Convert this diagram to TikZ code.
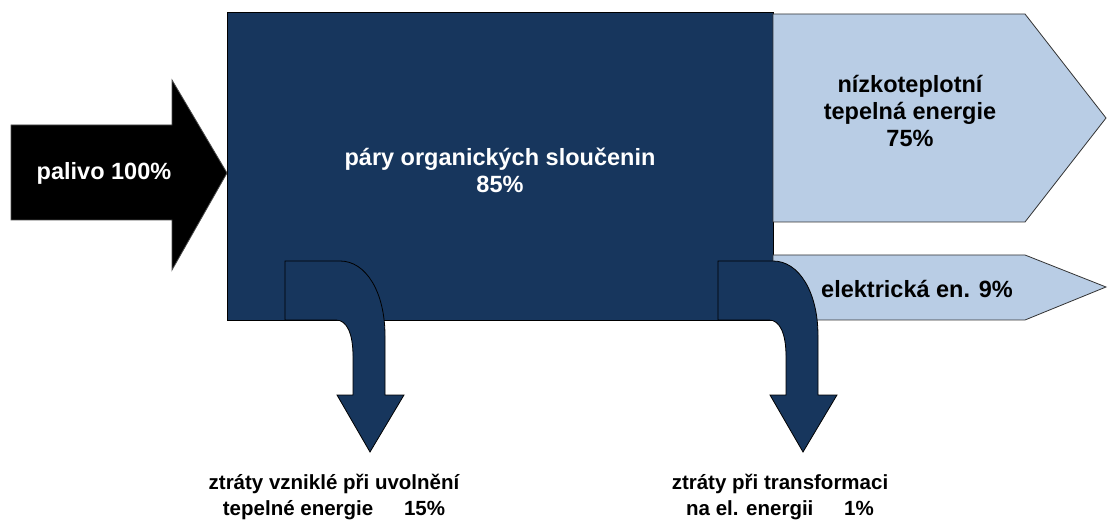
\documentclass[tikz,border=0pt]{standalone}
\usepackage{fontspec}
\setmainfont{Liberation Sans}
\definecolor{navy}{HTML}{17365D}
\definecolor{paleblue}{HTML}{B9CDE5}

\begin{document}
\begin{tikzpicture}[x=1pt, y=-1pt]
    \tikzset{FuelStyle/.style  = {fill       = black,
                                  draw       = black!70,
                                  line width = 0.8pt}}
    \tikzset{DarkFlow/.style   = {fill       = navy,
                                  draw       = black,
                                  line width = 0.8pt}}
    \tikzset{PaleFlow/.style   = {fill       = paleblue,
                                  draw       = black!80,
                                  line width = 0.8pt}}
    \tikzset{BigText/.style    = {font       = \bfseries\fontsize{23.5}{27}\selectfont,
                                  align      = center,
                                  inner sep  = 0pt}}
    \tikzset{SmallText/.style  = {font       = \bfseries\fontsize{20.5}{26}\selectfont,
                                  align      = center,
                                  inner sep  = 0pt}}
    \useasboundingbox (0,0) rectangle (1108,526);
    % fuel input
    \filldraw[FuelStyle] (11,125) -- (172,125) -- (172,80) -- (227,173)
                      -- (172,270) -- (172,220) -- (11,220) -- cycle;
    % vapour block
    \filldraw[DarkFlow] (227,12) rectangle (773,320);
    % outputs
    \filldraw[PaleFlow] (773,14) -- (1025,14) -- (1106,118)
                     -- (1025,222) -- (773,222) -- cycle;
    \filldraw[PaleFlow] (773,255) -- (1025,255) -- (1106,287)
                     -- (1025,320) -- (773,320) -- cycle;
    % losses
    \foreach \dx in {0,433}
        \filldraw[DarkFlow, xshift = \dx pt]
            (285,261) -- (340,261) .. controls (366,261) and (385,292) .. (385,336)
            -- (385,395) -- (404,395) -- (370,452) -- (337,395) -- (353,395)
            -- (353,356) .. controls (353,334) and (347,320) .. (336,320)
            -- (285,320) -- cycle;
    % labels
    \node[BigText, text = white] (fuel)   at (104,173) {palivo 100\%};
    \node[BigText, text = white] (vapour) at (500,170) {páry organických sloučenin\\85\%};
    \node[BigText]               (heat)   at (910,111) {nízkoteplotní\\tepelná energie\\75\%};
    \node[BigText]               (power)  at (917,289) {elektrická en. 9\%};
    \node[SmallText] (heatloss)  at (334,497) {ztráty vzniklé při uvolnění\\tepelné energie\hspace{1.5em}15\%};
    \node[SmallText] (powerloss) at (780,497) {ztráty při transformaci\\na el. energii\hspace{1.5em}1\%};
\end{tikzpicture}
\end{document}
